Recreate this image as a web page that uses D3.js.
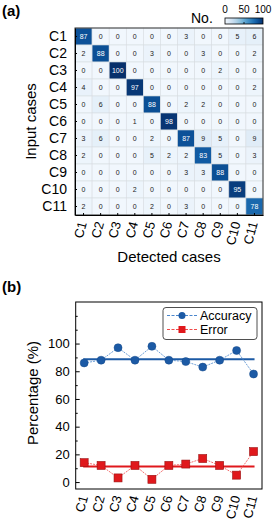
<!DOCTYPE html>
<html>
<head>
<meta charset="utf-8">
<script src="https://cdn.jsdelivr.net/npm/d3@7"></script>
<style>
  body { margin: 0; background: #fff; }
  svg { display: block; font-family: "Liberation Sans", Arial, sans-serif; }
</style>
</head>
<body>
<svg id="chart" width="274" height="524"></svg>
<script>
var cases = ["C1","C2","C3","C4","C5","C6","C7","C8","C9","C10","C11"];
var matrix = [
  [87, 0, 0, 0, 0, 0, 3, 0, 0, 5, 6],
  [2, 88, 0, 0, 3, 0, 0, 3, 0, 0, 2],
  [0, 0, 100, 0, 0, 0, 0, 0, 2, 0, 0],
  [4, 0, 0, 97, 0, 0, 0, 0, 0, 0, 2],
  [0, 6, 0, 0, 88, 0, 2, 2, 0, 0, 0],
  [0, 0, 0, 1, 0, 98, 0, 0, 0, 0, 0],
  [3, 6, 0, 0, 2, 0, 87, 9, 5, 0, 9],
  [2, 0, 0, 0, 5, 2, 2, 83, 5, 0, 3],
  [0, 0, 0, 0, 0, 0, 3, 3, 88, 0, 0],
  [0, 0, 0, 2, 0, 0, 0, 0, 0, 95, 0],
  [2, 0, 0, 0, 2, 0, 3, 0, 0, 0, 78]
];
var accuracy = [86, 88, 97, 88, 98, 88, 87, 83, 88, 95, 78];
var error = [14, 12, 3, 12, 2, 12, 13, 17, 12, 5, 22];
var colorTicks = [0, 50, 100];
var yTicks = [0, 20, 40, 60, 80, 100];

var svg = d3.select("#chart");

// ---- (a) confusion matrix
svg.append("text").attr("x", 2).attr("y", 16).attr("font-size", 15).attr("font-weight", "bold").text("(a)");

var mx = d3.scaleBand().domain(cases).range([75, 263]);
var my = d3.scaleBand().domain(cases).range([28, 215]);
var color = d3.scaleSequential(function(t){ return d3.interpolateBlues(0.03 + t * 0.97); }).domain([0, 100]);

var cells = [];
matrix.forEach(function(row, i){
  row.forEach(function(v, j){ cells.push({r: cases[i], c: cases[j], v: v}); });
});

var ga = svg.append("g");
ga.selectAll("rect.cell").data(cells).enter().append("rect")
  .attr("class", "cell")
  .attr("x", function(d){ return mx(d.c); })
  .attr("y", function(d){ return my(d.r); })
  .attr("width", mx.bandwidth())
  .attr("height", my.bandwidth())
  .attr("fill", function(d){ return color(d.v); })
  .attr("stroke", "#d8dde2").attr("stroke-width", 0.6);

ga.selectAll("text.val").data(cells).enter().append("text")
  .attr("class", "val")
  .attr("x", function(d){ return mx(d.c) + mx.bandwidth() / 2; })
  .attr("y", function(d){ return my(d.r) + my.bandwidth() / 2 + 2.5; })
  .attr("text-anchor", "middle")
  .attr("font-size", 7)
  .attr("fill", function(d){ return d.v > 60 ? "#fff" : "#222"; })
  .text(function(d){ return d.v; });

ga.append("rect").attr("x", 75).attr("y", 28).attr("width", 188).attr("height", 187)
  .attr("fill", "none").attr("stroke", "#333").attr("stroke-width", 1);

// row ticks + labels
var yAx = ga.append("g").attr("transform", "translate(75,0)")
  .call(d3.axisLeft(my).tickSizeInner(-2).tickSizeOuter(0).tickPadding(8));
yAx.select(".domain").attr("stroke", "#000");
yAx.selectAll("text").attr("font-size", 14).attr("fill", "#000").attr("font-family", "Liberation Sans, Arial, sans-serif");

var xAx = ga.append("g").attr("transform", "translate(0,215)")
  .call(d3.axisBottom(mx).tickSizeInner(-2).tickSizeOuter(0).tickPadding(4));
xAx.select(".domain").attr("stroke", "#000");
xAx.selectAll("text")
  .attr("font-size", 13).attr("fill", "#000").attr("font-family", "Liberation Sans, Arial, sans-serif")
  .attr("text-anchor", "end").attr("dy", "0.35em")
  .attr("transform", "translate(0,3) rotate(-75)")
  .attr("x", -4).attr("y", 0);

svg.append("text").attr("transform", "translate(36,121.5) rotate(-90)")
  .attr("text-anchor", "middle").attr("font-size", 15).text("Input cases");
svg.append("text").attr("x", 169).attr("y", 262)
  .attr("text-anchor", "middle").attr("font-size", 15).text("Detected cases");

// colorbar
var defs = svg.append("defs");
var grad = defs.append("linearGradient").attr("id", "cbar");
d3.range(0, 1.01, 0.1).forEach(function(t){
  grad.append("stop").attr("offset", t).attr("stop-color", color(t * 100));
});
var cb = d3.scaleLinear().domain([0, 100]).range([225, 263]);
svg.append("rect").attr("x", 225).attr("y", 18).attr("width", 38).attr("height", 6)
  .attr("fill", "url(#cbar)").attr("stroke", "#000").attr("stroke-width", 0.8);
svg.selectAll("text.cbt").data(colorTicks).enter().append("text")
  .attr("class", "cbt")
  .attr("x", function(d){ return cb(d); }).attr("y", 13)
  .attr("text-anchor", "middle").attr("font-size", 10).text(function(d){ return d; });
svg.append("line").attr("x1", cb(50)).attr("x2", cb(50)).attr("y1", 22).attr("y2", 24)
  .attr("stroke", "#000").attr("stroke-width", 0.8);
svg.append("text").attr("x", 191).attr("y", 23).attr("font-size", 14).text("No.");

// ---- (b) accuracy / error
svg.append("text").attr("x", 2).attr("y", 292).attr("font-size", 15).attr("font-weight", "bold").text("(b)");

var bx = d3.scalePoint().domain(cases).range([75.7, 262]).padding(0.5);
var by = d3.scaleLinear().domain([-5, 130]).range([489, 302]);
var gb = svg.append("g");

gb.append("rect").attr("x", 75.7).attr("y", 302).attr("width", 262 - 75.7).attr("height", 187)
  .attr("fill", "none").attr("stroke", "#000").attr("stroke-width", 1);

var yaxB = gb.append("g").attr("transform", "translate(75.7,0)")
  .call(d3.axisLeft(by).tickValues(yTicks).tickSizeInner(-4).tickSizeOuter(0).tickPadding(6));
yaxB.select(".domain").remove();
yaxB.selectAll("text").attr("font-size", 13).attr("fill", "#000").attr("font-family", "Liberation Sans, Arial, sans-serif");
var minor = gb.append("g").attr("transform", "translate(75.7,0)")
  .call(d3.axisLeft(by).tickValues([10, 30, 50, 70, 90, 110, 120]).tickSizeInner(-2).tickSizeOuter(0).tickFormat(""));
minor.select(".domain").remove();

var xaxB = gb.append("g").attr("transform", "translate(0,489)")
  .call(d3.axisBottom(bx).tickSizeInner(0).tickSizeOuter(0).tickPadding(4));
xaxB.select(".domain").remove();
xaxB.selectAll("text")
  .attr("font-size", 13).attr("fill", "#000").attr("font-family", "Liberation Sans, Arial, sans-serif")
  .attr("text-anchor", "end").attr("dy", "0.35em")
  .attr("transform", "translate(0,3) rotate(-75)")
  .attr("x", -4).attr("y", 0);

svg.append("text").attr("transform", "translate(38,393) rotate(-90)")
  .attr("text-anchor", "middle").attr("font-size", 15).text("Percentage (%)");

var series = [
  {name: "Accuracy", values: accuracy, color: "#1c5aa5", light: "#4a86cc", shape: "circle"},
  {name: "Error", values: error, color: "#e0181c", light: "#f04a4a", shape: "square"}
];
var line = d3.line().x(function(d, i){ return bx(cases[i]); }).y(function(d){ return by(d); });

series.forEach(function(s){
  var mean = d3.mean(s.values);
  gb.append("line")
    .attr("x1", bx(cases[0]) - 1).attr("x2", bx(cases[cases.length - 1]) + 1)
    .attr("y1", by(mean)).attr("y2", by(mean))
    .attr("stroke", s.color).attr("stroke-width", 2);
  gb.append("path").datum(s.values).attr("d", line)
    .attr("fill", "none").attr("stroke", s.light).attr("stroke-width", 0.8)
    .attr("stroke-dasharray", "2,1");
  var pts = gb.selectAll(null).data(s.values).enter();
  if (s.shape === "circle") {
    pts.append("circle")
      .attr("cx", function(d, i){ return bx(cases[i]); })
      .attr("cy", function(d){ return by(d); })
      .attr("r", 4).attr("fill", s.color).attr("stroke", "#174a8a").attr("stroke-width", 0.5);
  } else {
    pts.append("rect")
      .attr("x", function(d, i){ return bx(cases[i]) - 4; })
      .attr("y", function(d){ return by(d) - 4; })
      .attr("width", 8).attr("height", 8)
      .attr("fill", s.color).attr("stroke", "#9a1010").attr("stroke-width", 0.6);
  }
});

// legend
var lg = gb.append("g");
lg.append("rect").attr("x", 163).attr("y", 307.5).attr("width", 94).attr("height", 32).attr("rx", 3)
  .attr("fill", "#fff").attr("stroke", "#222").attr("stroke-width", 0.8);
series.forEach(function(s, i){
  var y = 315.5 + i * 14;
  lg.append("line").attr("x1", 167).attr("x2", 197).attr("y1", y).attr("y2", y)
    .attr("stroke", s.light).attr("stroke-width", 1.2).attr("stroke-dasharray", "3,1.5");
  if (s.shape === "circle") {
    lg.append("circle").attr("cx", 182).attr("cy", y).attr("r", 3.5).attr("fill", s.color);
  } else {
    lg.append("rect").attr("x", 178.5).attr("y", y - 3.5).attr("width", 7).attr("height", 7).attr("fill", s.color);
  }
  lg.append("text").attr("x", 200).attr("y", y + 4.3).attr("font-size", 12.5).text(s.name);
});
</script>
</body>
</html>
